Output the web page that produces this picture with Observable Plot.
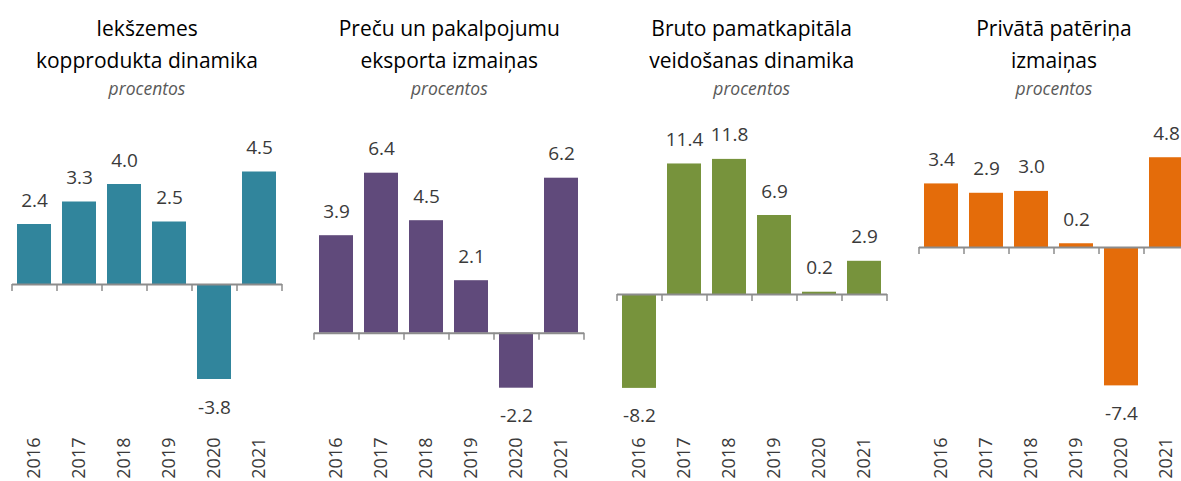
<!DOCTYPE html>
<html>
<head>
<meta charset="utf-8">
<script src="https://cdn.jsdelivr.net/npm/d3@7"></script>
<script src="https://cdn.jsdelivr.net/npm/@observablehq/plot@0.6"></script>
<style>
  html, body { margin: 0; padding: 0; background: #fff; overflow: hidden; }
  #root { position: relative; width: 1181px; height: 481px; overflow: hidden; font-family: "Open Sans", sans-serif; }
  .panel { position: absolute; top: 0; width: 300px; height: 481px; }
  .t { position: absolute; left: 0; width: 300px; text-align: center; line-height: 1; white-space: nowrap; }
  .t1 { font-size: 21px; color: #000; }
  .sub { font-size: 17.5px; font-style: italic; color: #595959; }
  .panel svg { position: absolute; left: 0; top: 110px; }
</style>
</head>
<body>
<div id="root"></div>
<script>
// ---- data ----
const years = ["2016", "2017", "2018", "2019", "2020", "2021"];
const gdp = [2.4, 3.3, 4.0, 2.5, -3.8, 4.5];
const exportsChange = [3.9, 6.4, 4.5, 2.1, -2.2, 6.2];
const investment = [-8.2, 11.4, 11.8, 6.9, 0.2, 2.9];
const consumption = [3.4, 2.9, 3.0, 0.2, -7.4, 4.8];
const titles = [
  ["Iekšzemes", "kopprodukta dinamika"],
  ["Preču un pakalpojumu", "eksporta izmaiņas"],
  ["Bruto pamatkapitāla", "veidošanas dinamika"],
  ["Privātā patēriņa", "izmaiņas"]
];
const subtitle = "procentos";
const seriesList = [gdp, exportsChange, investment, consumption];

// ---- layout / style ----
const colors = ["#31859C", "#604A7B", "#77933C", "#E46C0A"];
const panelLeft = [2, 304.3, 606.7, 909];   // page x of each panel box
const zeroY = [284, 332.7, 294, 247];        // page y of zero line
const pxPerUnit = [25, 25, 11.45, 18.7];
const svgTop = 110, svgH = 371, W = 300, mL = 10, mR = 20;
const tickLen = 7;

const root = document.getElementById("root");

seriesList.forEach((values, i) => {
  const data = years.map((year, j) => ({year, value: values[j]}));
  const panel = document.createElement("div");
  panel.className = "panel";
  panel.style.left = panelLeft[i] + "px";

  const cx = mL + (W - mL - mR) / 2 - W / 2; // center offset of the axis span
  const mk = (cls, text, top) => {
    const d = document.createElement("div");
    d.className = "t " + cls;
    d.textContent = text;
    d.style.top = top + "px";
    d.style.left = cx + "px";
    panel.appendChild(d);
  };
  mk("t1", titles[i][0], 18.3);
  mk("t1", titles[i][1], 49.9);
  mk("sub", subtitle, 80.4);

  const y0 = zeroY[i] - svgTop;
  const k = pxPerUnit[i];
  const step = (W - mL - mR) / years.length;

  const chart = Plot.plot({
    width: W,
    height: svgH,
    marginLeft: mL,
    marginRight: mR,
    marginTop: 0,
    marginBottom: 44,
    style: {fontFamily: "Open Sans, sans-serif", overflow: "visible"},
    x: {domain: years, paddingInner: 0.244, paddingOuter: 0.122, axis: null, label: null},
    y: {domain: [0, 1], range: [y0, y0 - k], axis: null},
    marks: [
      Plot.barY(data, {x: "year", y: "value", fill: colors[i]}),
      Plot.ruleY([0], {stroke: "#8c8c8c", strokeWidth: 2}),
      Plot.ruleX(years, {x: d => d, y1: 0, y2: -tickLen / k, dx: -step / 2, stroke: "#8c8c8c", strokeWidth: 1.5}),
      Plot.ruleX(years.slice(-1), {x: d => d, y1: 0, y2: -tickLen / k, dx: step / 2, stroke: "#8c8c8c", strokeWidth: 1.5}),
      Plot.text(data.filter(d => d.value >= 0), {
        x: "year", y: "value", text: d => d.value.toFixed(1),
        dy: -24, fontSize: 19, fill: "#3a3a3a", lineAnchor: "middle"
      }),
      Plot.text(data.filter(d => d.value < 0), {
        x: "year", y: "value", text: d => d.value.toFixed(1),
        dy: 28, fontSize: 19, fill: "#3a3a3a", lineAnchor: "middle"
      }),
      Plot.axisX({anchor: "bottom", label: null, tickSize: 0, tickPadding: 0, tickRotate: -90, fontSize: 18, color: "#3a3a3a"})
    ]
  });
  panel.appendChild(chart);
  root.appendChild(panel);
});
</script>
</body>
</html>
